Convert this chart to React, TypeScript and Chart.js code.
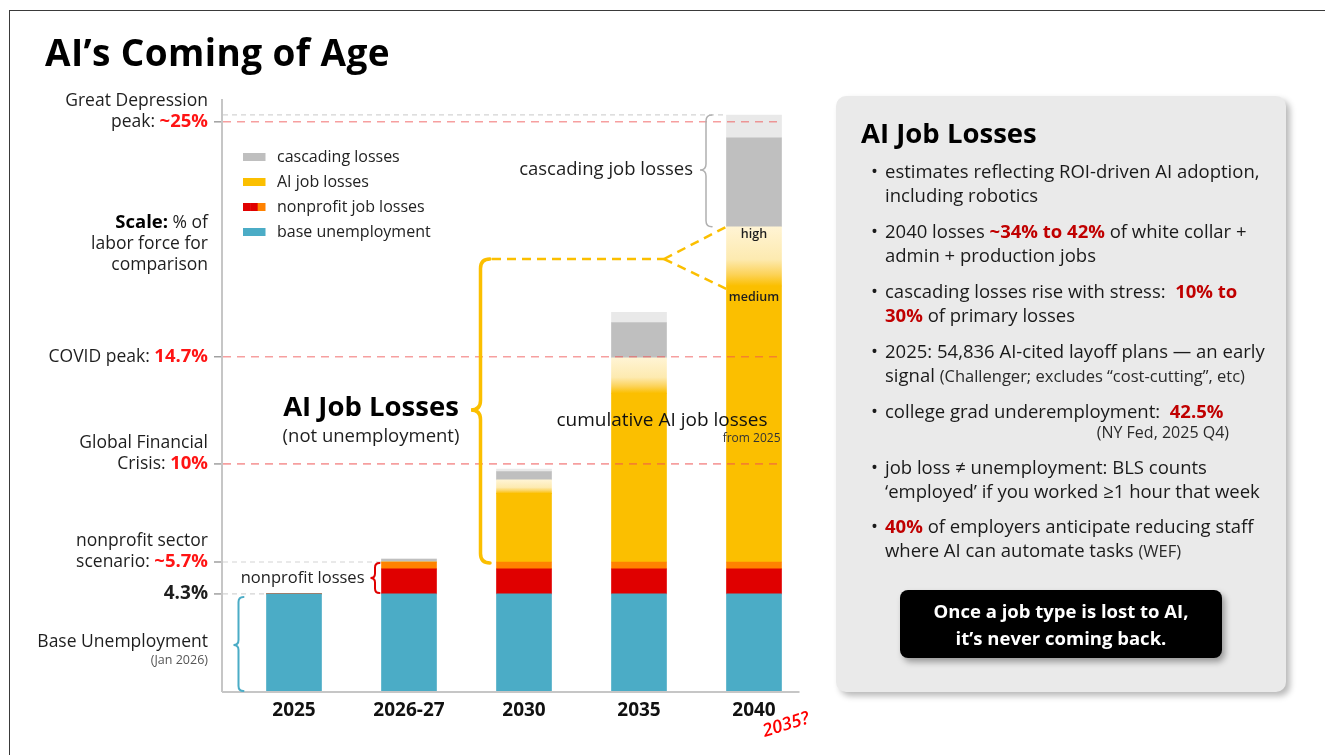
import React, { useEffect, useRef } from "react";
import { Chart, registerables } from "chart.js";

Chart.register(...registerables);

// ---------------- data ----------------
const categories = ["2025", "2026-27", "2030", "2035", "2040"];
const baseUnemployment = [4.3, 4.3, 4.3, 4.3, 4.3];
const nonprofitLossesRed = [0, 1.1, 1.1, 1.1, 1.1];
const nonprofitLossesOrange = [0, 0.3, 0.3, 0.3, 0.3];
const aiLossesMedium = [0, 0, 3.0, 7.4, 12.1];
const aiLossesHighExtra = [0, 0, 0.6, 1.55, 2.6];
const cascadingLosses = [0, 0.13, 0.36, 1.55, 3.9];
const cascadingUpper = [0, 0, 0.11, 0.45, 1.0];

const yMin = 0;
const yMax = 26;
const greatDepressionLevel = 25;
const covidLevel = 14.7;
const gfcLevel = 10;
const nonprofitScenarioLevel = 5.7;
const baseLevel = 4.3;

const legendItems = [
  { label: "cascading losses", colors: ["#BFBFBF"] },
  { label: "AI job losses", colors: ["#FBBF00"] },
  { label: "nonprofit job losses", colors: ["#E00000", "#E00000", "#FF8200"] },
  { label: "base unemployment", colors: ["#4BACC6"] },
];

// ---------------- style ----------------
const F = "'Open Sans', 'DejaVu Sans', sans-serif";
const TEAL = "#4BACC6";
const RED = "#E00000";
const ORANGE = "#FF8200";
const YELLOW = "#FBBF00";
const GRAY = "#BFBFBF";
const LIGHT_GRAY = "#E9E9E9";
const BRIGHT_RED = "#FF1414";
const BAR_W = 55;

const sumAt = (arrs: number[][], i: number) => arrs.reduce((s, a) => s + a[i], 0);

const highGradient = (c: any) => {
  const chart = c.chart;
  const ys = chart.scales && chart.scales.y;
  const i = c.dataIndex;
  if (!ys || i === undefined) return "#FDE9A9";
  const lo = sumAt([baseUnemployment, nonprofitLossesRed, nonprofitLossesOrange, aiLossesMedium], i);
  const hi = lo + aiLossesHighExtra[i];
  const yb = ys.getPixelForValue(lo);
  const yt = ys.getPixelForValue(hi);
  if (!isFinite(yb) || !isFinite(yt) || yb - yt < 1) return "#FDE9A9";
  const g = chart.ctx.createLinearGradient(0, yt, 0, yb);
  g.addColorStop(0, "#FFF4D4");
  g.addColorStop(0.55, "#FDEAB0");
  g.addColorStop(0.8, "#FCD35A");
  g.addColorStop(1, YELLOW);
  return g;
};

type Run = { t: string; font: string; color: string };

const annotationsPlugin = {
  id: "annotations",
  afterDatasetsDraw(chart: any) {
    const ctx: CanvasRenderingContext2D = chart.ctx;
    const xs = chart.scales.x;
    const ys = chart.scales.y;
    const px = (i: number) => xs.getPixelForValue(i);
    const py = (v: number) => ys.getPixelForValue(v);
    const half = BAR_W / 2;
    const axisX = chart.chartArea.left - 14.5;
    const bottom = py(0);
    const labelRight = axisX - 14;

    const line = (x1: number, y1: number, x2: number, y2: number) => {
      ctx.beginPath();
      ctx.moveTo(x1, y1);
      ctx.lineTo(x2, y2);
      ctx.stroke();
    };
    const runsRight = (runs: Run[], xr: number, y: number) => {
      let w = 0;
      for (const r of runs) {
        ctx.font = r.font;
        w += ctx.measureText(r.t).width;
      }
      let x = xr - w;
      ctx.textAlign = "left";
      ctx.textBaseline = "middle";
      for (const r of runs) {
        ctx.font = r.font;
        ctx.fillStyle = r.color;
        ctx.fillText(r.t, x, y);
        x += ctx.measureText(r.t).width;
      }
    };
    const text = (t: string, x: number, y: number, font: string, color: string, align: CanvasTextAlign = "center") => {
      ctx.font = font;
      ctx.fillStyle = color;
      ctx.textAlign = align;
      ctx.textBaseline = "middle";
      ctx.fillText(t, x, y);
    };
    const brace = (xTip: number, xEnd: number, yTop: number, yBot: number, yMid: number, color: string, lw: number) => {
      const xm = (xTip + xEnd) / 2;
      const r = xEnd - xm;
      ctx.strokeStyle = color;
      ctx.lineWidth = lw;
      ctx.setLineDash([]);
      ctx.lineCap = "round";
      ctx.beginPath();
      ctx.moveTo(xEnd, yTop);
      ctx.quadraticCurveTo(xm, yTop, xm, yTop + r);
      ctx.lineTo(xm, yMid - r);
      ctx.quadraticCurveTo(xm, yMid, xTip, yMid);
      ctx.quadraticCurveTo(xm, yMid, xm, yMid + r);
      ctx.lineTo(xm, yBot - r);
      ctx.quadraticCurveTo(xm, yBot, xEnd, yBot);
      ctx.stroke();
      ctx.lineCap = "butt";
    };

    ctx.save();

    // axes
    ctx.strokeStyle = "#C6C6C6";
    ctx.lineWidth = 2;
    ctx.setLineDash([]);
    line(axisX, py(yMax), axisX, bottom);
    line(axisX, bottom, px(4) + half + 18, bottom);

    // tick marks on the left
    ctx.strokeStyle = "#A0A0A0";
    ctx.lineWidth = 1.5;
    for (const v of [greatDepressionLevel, covidLevel, gfcLevel, nonprofitScenarioLevel, baseLevel]) {
      line(axisX - 8, py(v), axisX - 1, py(v));
    }

    // light gray dashed guides
    ctx.strokeStyle = "#D4D4D4";
    ctx.lineWidth = 1.2;
    ctx.setLineDash([5, 4]);
    const top2040 = sumAt([baseUnemployment, nonprofitLossesRed, nonprofitLossesOrange, aiLossesMedium, aiLossesHighExtra, cascadingLosses, cascadingUpper], 4);
    line(axisX + 1, py(top2040), px(4) - half, py(top2040));
    line(axisX + 1, py(nonprofitScenarioLevel), px(1) - half, py(nonprofitScenarioLevel));
    line(axisX + 1, py(baseLevel), px(0) - half, py(baseLevel));

    // red dashed reference levels
    ctx.strokeStyle = "rgba(238, 80, 80, 0.55)";
    ctx.lineWidth = 1.6;
    ctx.setLineDash([8, 6]);
    for (const v of [greatDepressionLevel, covidLevel, gfcLevel]) {
      line(axisX + 1, py(v), px(4) + half, py(v));
    }
    ctx.setLineDash([]);

    // left labels
    const reg = `400 17.5px ${F}`;
    const boldRed = `700 18.5px ${F}`;
    const dark = "#1E1E1E";
    runsRight([{ t: "Great Depression", font: reg, color: dark }], labelRight, py(greatDepressionLevel) - 21);
    runsRight([{ t: "peak: ", font: reg, color: dark }, { t: "~25%", font: boldRed, color: BRIGHT_RED }], labelRight, py(greatDepressionLevel));
    runsRight([{ t: "Scale:", font: `700 18.5px ${F}`, color: "#000" }, { t: " % of", font: reg, color: dark }], labelRight, 223);
    runsRight([{ t: "labor force for", font: reg, color: dark }], labelRight, 244);
    runsRight([{ t: "comparison", font: reg, color: dark }], labelRight, 265);
    runsRight([{ t: "COVID peak: ", font: reg, color: dark }, { t: "14.7%", font: boldRed, color: BRIGHT_RED }], labelRight, py(covidLevel));
    runsRight([{ t: "Global Financial", font: reg, color: dark }], labelRight, py(gfcLevel) - 21);
    runsRight([{ t: "Crisis: ", font: reg, color: dark }, { t: "10%", font: boldRed, color: BRIGHT_RED }], labelRight, py(gfcLevel));
    runsRight([{ t: "nonprofit sector", font: reg, color: dark }], labelRight, py(nonprofitScenarioLevel) - 21);
    runsRight([{ t: "scenario: ", font: reg, color: dark }, { t: "~5.7%", font: boldRed, color: BRIGHT_RED }], labelRight, py(nonprofitScenarioLevel));
    runsRight([{ t: "4.3%", font: `700 19px ${F}`, color: dark }], labelRight, py(baseLevel));
    runsRight([{ t: "Base Unemployment", font: reg, color: dark }], labelRight, 642);
    runsRight([{ t: "(Jan 2026)", font: `400 12.5px ${F}`, color: "#555" }], labelRight, 660);

    // category labels
    categories.forEach((c, i) => text(c, px(i), bottom + 19, `700 19px ${F}`, "#111"));
    // "2035?" note
    ctx.save();
    ctx.translate(px(4) + 32, bottom + 33);
    ctx.rotate(-0.3);
    text("2035?", 0, 0, `italic 600 18px ${F}`, "#FF0000");
    ctx.restore();

    // legend
    legendItems.forEach((it, k) => {
      const y = 157 + k * 25;
      const sw = 22 / it.colors.length;
      it.colors.forEach((col, j) => {
        ctx.fillStyle = col;
        ctx.fillRect(243 + j * sw, y - 4, sw + 0.5, 8);
      });
      text(it.label, 277, y, `400 16px ${F}`, "#222", "left");
    });

    // braces
    brace(px(0) - half - 33, px(0) - half - 23, py(baseLevel) + 3, bottom - 1, 645, TEAL, 2);
    brace(px(1) - half - 11, px(1) - half - 2, py(nonprofitScenarioLevel) + 1, py(baseLevel) - 1, 578, RED, 2);
    text("nonprofit losses", px(1) - half - 17, 578, `400 16.5px ${F}`, "#222", "right");

    const highTop2040 = sumAt([baseUnemployment, nonprofitLossesRed, nonprofitLossesOrange, aiLossesMedium, aiLossesHighExtra], 4);
    const medTop2040 = sumAt([baseUnemployment, nonprofitLossesRed, nonprofitLossesOrange, aiLossesMedium], 4);
    brace(700, 712, py(top2040), py(highTop2040), 170, "#B0B0B0", 1.5);
    text("cascading job losses", 693, 170, `500 18.5px ${F}`, "#1E1E1E", "right");

    // big yellow brace for AI job losses
    const braceTop = 259;
    brace(471, 490, braceTop, py(nonprofitScenarioLevel) + 1, 410, YELLOW, 3.5);
    ctx.strokeStyle = YELLOW;
    ctx.lineWidth = 2.5;
    ctx.setLineDash([9, 6]);
    line(492, braceTop, 664, braceTop);
    line(664, braceTop, px(4) - half, py(highTop2040));
    line(664, braceTop, px(4) - half, py(medTop2040) + 3);
    ctx.setLineDash([]);

    text("AI Job Losses", 371, 408, `700 27.5px ${F}`, "#000");
    text("(not unemployment)", 371, 437, `400 18.5px ${F}`, "#1E1E1E");
    text("cumulative AI job losses", 662, 421, `400 19px ${F}`, "#111");
    text("from 2025", px(4) + half - 1, 439, `400 12px ${F}`, "#333", "right");
    text("high", px(4), py(highTop2040) + 8, `600 12.5px ${F}`, "#1E1E1E");
    text("medium", px(4), py(medTop2040) + 11, `600 12.5px ${F}`, "#1E1E1E");

    ctx.restore();
  },
};

const panelRed = "#C00000";
const small: React.CSSProperties = { fontSize: 16.5, color: "#2a2a2a" };

function Bullet({ top, children }: { top: number; children: React.ReactNode }) {
  return (
    <div style={{ position: "absolute", left: 49, top, lineHeight: "24px", whiteSpace: "nowrap" }}>
      <span style={{ position: "absolute", left: -14, top: 0 }}>•</span>
      {children}
    </div>
  );
}

export default function App() {
  const ref = useRef<HTMLCanvasElement | null>(null);

  useEffect(() => {
    if (!ref.current) return;
    const mk = (label: string, data: number[], color: any) => ({
      label,
      data,
      backgroundColor: color,
      borderWidth: 0,
      barThickness: BAR_W,
    });
    const chart = new Chart(ref.current, {
      type: "bar",
      data: {
        labels: categories,
        datasets: [
          mk("base unemployment", baseUnemployment, TEAL),
          mk("nonprofit job losses", nonprofitLossesRed, RED),
          mk("nonprofit job losses (upper)", nonprofitLossesOrange, ORANGE),
          mk("AI job losses (medium)", aiLossesMedium, YELLOW),
          mk("AI job losses (to high)", aiLossesHighExtra, highGradient),
          mk("cascading losses", cascadingLosses, GRAY),
          mk("cascading losses (upper)", cascadingUpper, LIGHT_GRAY),
        ] as any,
      },
      options: {
        animation: false,
        responsive: false,
        maintainAspectRatio: false,
        layout: { padding: { left: 236.5, right: 513.5, top: 99, bottom: 63 } },
        plugins: { legend: { display: false }, tooltip: { enabled: false } },
        scales: {
          x: { stacked: true, display: false, offset: true },
          y: { stacked: true, display: false, min: yMin, max: yMax },
        },
      } as any,
      plugins: [annotationsPlugin as any],
    });
    return () => chart.destroy();
  }, []);

  return (
    <div
      style={{
        position: "fixed",
        left: 0,
        top: 0,
        width: 1325,
        height: 755,
        background: "#fff",
        overflow: "hidden",
        fontFamily: F,
      }}
    >
      <div
        style={{
          position: "absolute",
          left: 9,
          top: 10,
          width: 1340,
          height: 770,
          border: "1.5px solid #3a3a3a",
        }}
      />
      <canvas ref={ref} width={1325} height={755} style={{ position: "absolute", left: 0, top: 0, width: 1325, height: 755 }} />
      <div
        style={{
          position: "absolute",
          left: 45,
          top: 33,
          fontSize: 37,
          letterSpacing: 0.4,
          fontWeight: 700,
          lineHeight: "37px",
          color: "#000",
          whiteSpace: "nowrap",
        }}
      >
        AI’s Coming of Age
      </div>

      <div
        style={{
          position: "absolute",
          left: 836,
          top: 96,
          width: 450,
          height: 596,
          background: "#EAEAEA",
          borderRadius: 10,
          boxShadow: "4px 4px 6px rgba(0,0,0,0.28)",
          fontSize: 18.5,
          color: "#1A1A1A",
        }}
      >
        <div style={{ position: "absolute", left: 25, top: 21, fontSize: 27.5, fontWeight: 700, lineHeight: "32px", color: "#000" }}>
          AI Job Losses
        </div>
        <Bullet top={63}>
          estimates reflecting ROI-driven AI adoption,
          <br />
          including robotics
        </Bullet>
        <Bullet top={123}>
          2040 losses <b style={{ color: panelRed }}>~34% to 42%</b> of white collar +
          <br />
          admin + production jobs
        </Bullet>
        <Bullet top={183}>
          cascading losses rise with stress:&nbsp; <b style={{ color: panelRed }}>10% to</b>
          <br />
          <b style={{ color: panelRed }}>30%</b> of primary losses
        </Bullet>
        <Bullet top={243}>
          2025: 54,836 AI-cited layoff plans — an early
          <br />
          signal <span style={small}>(Challenger; excludes “cost-cutting”, etc)</span>
        </Bullet>
        <Bullet top={303}>
          college grad underemployment:&nbsp; <b style={{ color: panelRed }}>42.5%</b>
        </Bullet>
        <div style={{ position: "absolute", right: 57, top: 326, lineHeight: "20px", ...small, fontSize: 16 }}>(NY Fed, 2025 Q4)</div>
        <Bullet top={359}>
          job loss ≠ unemployment: BLS counts
          <br />
          ‘employed’ if you worked ≥1 hour that week
        </Bullet>
        <Bullet top={418}>
          <b style={{ color: panelRed }}>40%</b> of employers anticipate reducing staff
          <br />
          where AI can automate tasks <span style={small}>(WEF)</span>
        </Bullet>
        <div
          style={{
            position: "absolute",
            left: 64,
            top: 494,
            width: 322,
            height: 68,
            background: "#000",
            borderRadius: 8,
            boxShadow: "3px 4px 6px rgba(0,0,0,0.35)",
            color: "#fff",
            fontWeight: 700,
            fontSize: 18.5,
            lineHeight: "27px",
            textAlign: "center",
            paddingTop: 7,
            boxSizing: "border-box",
          }}
        >
          Once a job type is lost to AI,
          <br />
          it’s never coming back.
        </div>
      </div>
    </div>
  );
}
